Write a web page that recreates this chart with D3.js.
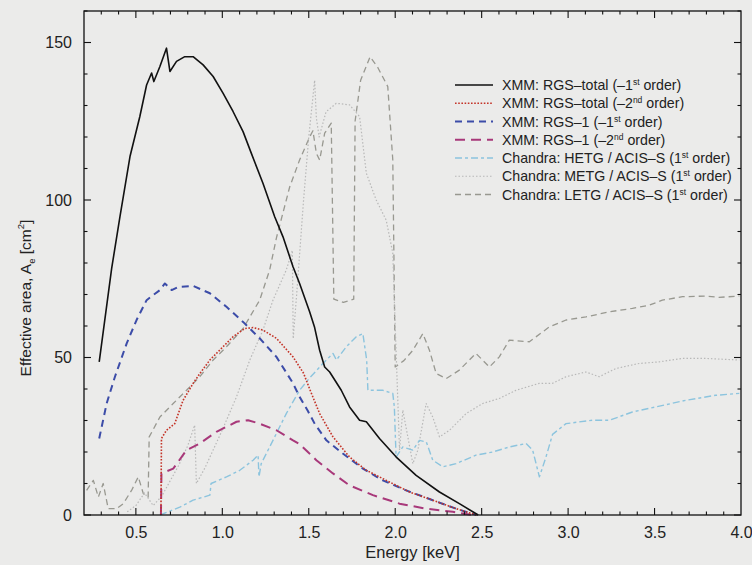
<!DOCTYPE html>
<html><head><meta charset="utf-8">
<script src="https://cdn.jsdelivr.net/npm/d3@7"></script>
<style>
html,body{margin:0;padding:0;background:#ebebea;}
svg{display:block;font-family:"Liberation Sans",Arial,sans-serif;}
</style></head>
<body><svg id="c" width="752" height="565"></svg>
<script>
// ---- data: [energy keV, effective area cm^2] ----
const rgsTotal1 = [[0.288,48.6],[0.36,78.3],[0.408,94.7],[0.466,113.8],[0.523,126.5],[0.562,136.5],[0.591,140.3],[0.604,137.6],[0.639,142.4],[0.677,148.2],[0.697,140.8],[0.735,144],[0.783,145.5],[0.831,145.5],[0.889,142.9],[0.947,139.2],[1.004,133.9],[1.062,128.1],[1.12,121.7],[1.168,114.8],[1.235,105.3],[1.303,94.7],[1.351,88.3],[1.409,78.8],[1.447,73.5],[1.505,64.5],[1.534,59.5],[1.563,52.3],[1.592,47],[1.621,45.4],[1.688,39.6],[1.736,34.3],[1.794,30.1],[1.833,29.6],[1.909,24.3],[2.006,18.4],[2.121,12.6],[2.256,7.3],[2.371,3.6],[2.468,0.4],[2.48,0]];
const rgsTotal2 = [[0.645,0],[0.648,24.3],[0.677,26.9],[0.725,29],[0.773,36.4],[0.831,41.8],[0.87,44.9],[0.928,49.2],[1.004,53.4],[1.062,56.6],[1.13,59.2],[1.178,59.5],[1.235,58.7],[1.313,56.1],[1.409,50.2],[1.47,45],[1.505,40],[1.563,32.2],[1.64,24.8],[1.736,18.4],[1.833,14.2],[1.948,11],[2.083,7.3],[2.217,4.7],[2.352,2],[2.47,0]];
const rgs1First = [[0.288,24.3],[0.331,35.4],[0.379,43.9],[0.447,54.5],[0.504,61.9],[0.562,68.2],[0.6,69.8],[0.639,71.4],[0.668,73.5],[0.707,71.4],[0.745,72.4],[0.832,72.7],[0.928,70.4],[1.024,66.1],[1.12,61.3],[1.216,56.1],[1.313,50.2],[1.409,41.8],[1.447,37.5],[1.495,33],[1.534,29],[1.602,23.7],[1.697,19.5],[1.813,14.7],[1.928,11],[2.063,7.8],[2.217,4.7],[2.352,2],[2.47,0]];
const rgs1Second = [[0.645,0],[0.648,13.2],[0.716,14.7],[0.793,20.6],[0.87,22.7],[0.966,26.4],[1.082,29.6],[1.149,30.1],[1.216,29],[1.313,26.9],[1.409,23.7],[1.447,22.5],[1.495,20],[1.544,17.4],[1.64,13.2],[1.736,9.4],[1.871,6.3],[2.025,3.6],[2.179,2],[2.333,1],[2.45,0]];
const hetg = [[0.64,0],[0.754,2.5],[0.831,4.7],[0.928,6.3],[0.935,10],[1.024,12.1],[1.101,14.2],[1.178,17.4],[1.207,19],[1.212,12.1],[1.225,16.3],[1.293,23.7],[1.37,32.2],[1.447,39.6],[1.505,43.5],[1.582,48.1],[1.64,51.3],[1.66,49.2],[1.717,53.4],[1.775,56.6],[1.813,57.6],[1.835,49.2],[1.842,39.6],[1.928,39.6],[1.986,38.6],[1.995,34.3],[2.005,18.4],[2.044,21.6],[2.102,20.6],[2.14,23.7],[2.18,23.2],[2.217,17.4],[2.275,15.3],[2.352,16.3],[2.467,19],[2.564,20],[2.66,21.6],[2.757,22.7],[2.795,20.6],[2.834,12.1],[2.872,18.4],[2.91,25.6],[2.988,29],[3.142,30.1],[3.24,30.1],[3.372,32.7],[3.507,34.3],[3.68,36.4],[3.853,38],[3.99,38.6]];
const metg = [[0.45,1],[0.5,3],[0.55,7],[0.6,3],[0.65,6],[0.7,11],[0.75,16],[0.8,22],[0.84,28.5],[0.85,10],[0.9,15],[1.0,27],[1.082,37.5],[1.159,49.2],[1.235,58.7],[1.293,68.2],[1.37,77.8],[1.405,84],[1.41,56],[1.43,70],[1.47,100],[1.5,120],[1.534,138],[1.544,126],[1.56,120],[1.6,128],[1.659,130.7],[1.736,130.2],[1.794,126.5],[1.833,108.5],[1.89,100],[1.948,93.6],[1.986,83.1],[2.0,60],[2.025,20.6],[2.044,33.3],[2.102,16.3],[2.131,20.6],[2.179,35.4],[2.217,31.1],[2.256,24.8],[2.314,26.9],[2.41,32.2],[2.506,35.4],[2.602,37],[2.699,39.6],[2.834,41.8],[2.91,41.8],[2.988,43.9],[3.103,45.4],[3.18,43.9],[3.276,46.5],[3.411,48.1],[3.526,48.6],[3.661,49.7],[3.796,49.7],[3.99,49.2]];
const letg = [[0.215,7.8],[0.254,11],[0.283,5.7],[0.311,10],[0.34,2],[0.389,2],[0.427,3.6],[0.475,7.8],[0.514,12.1],[0.543,6.8],[0.571,5.7],[0.577,24.8],[0.639,31.1],[0.716,35.4],[0.793,39.6],[0.87,43.9],[0.947,49.2],[1.024,53.4],[1.12,59.2],[1.216,68.2],[1.274,77.8],[1.313,88],[1.39,104.2],[1.447,112.7],[1.505,120],[1.524,122],[1.544,114.8],[1.563,112.7],[1.592,121.2],[1.63,124.4],[1.645,68.5],[1.7,67.5],[1.76,68.5],[1.768,125],[1.8,138],[1.855,145.5],[1.9,142],[1.957,136],[1.986,112.7],[2.0,47],[2.05,49],[2.102,52.3],[2.16,57.6],[2.198,52.3],[2.237,44.9],[2.295,43.3],[2.371,46],[2.467,51.3],[2.545,47],[2.602,50.2],[2.66,55.5],[2.776,55],[2.891,59.7],[2.988,61.9],[3.103,62.9],[3.238,64.5],[3.372,65.6],[3.469,66.6],[3.545,68.2],[3.661,69.3],[3.796,69.5],[3.873,69.1],[3.99,69.5]];

const xTicksMajor = [0.5,1.0,1.5,2.0,2.5,3.0,3.5,4.0];
const yTicksMajor = [0,50,100,150];
const legendLabels = [
  ["XMM: RGS\u2013total (\u20131","st"," order)"],
  ["XMM: RGS\u2013total (\u20132","nd"," order)"],
  ["XMM: RGS\u20131 (\u20131","st"," order)"],
  ["XMM: RGS\u20131 (\u20132","nd"," order)"],
  ["Chandra: HETG / ACIS\u2013S (1","st"," order)"],
  ["Chandra: METG / ACIS\u2013S (1","st"," order)"],
  ["Chandra: LETG / ACIS\u2013S (1","st"," order)"]
];

// ---- series styles ----
const series = [
  {d: letg, color:"#989890", w:1.3, dash:"6,4"},
  {d: metg, color:"#b8b8b8", w:1.2, dash:"1.5,2"},
  {d: hetg, color:"#8cc4de", w:1.4, dash:"7,3,3,3"},
  {d: rgs1Second, color:"#a8387a", w:2, dash:"10,6"},
  {d: rgs1First, color:"#3c4ca8", w:2, dash:"7,5"},
  {d: rgsTotal2, color:"#c43428", w:1.6, dash:"1.6,1.6"},
  {d: rgsTotal1, color:"#111111", w:1.6, dash:null}
];
const legendOrder = [6,5,4,3,2,1,0];

const svg = d3.select("#c");
const L=84, R=741, T=11, B=515;
const x = d3.scaleLinear().domain([0.2,4.0]).range([L,R]);
const y = d3.scaleLinear().domain([0,160]).range([B,T]);

const line = d3.line().x(d=>x(d[0])).y(d=>y(d[1]));
const g = svg.append("g");
series.forEach(s=>{
  g.append("path").attr("d",line(s.d)).attr("fill","none")
   .attr("stroke",s.color).attr("stroke-width",s.w)
   .attr("stroke-dasharray",s.dash).attr("stroke-linejoin","round");
});

// axes (ticks inward)
const xMinor = d3.range(3,40).map(v=>v/10);
const yMinor = d3.range(0,161,10);
function axisTicks(){
  const a = svg.append("g").attr("stroke","#111").attr("stroke-width",1.1);
  xMinor.forEach(v=>{
    const major = xTicksMajor.some(m=>Math.abs(m-v)<1e-6);
    const len = major?7:3.5;
    a.append("line").attr("x1",x(v)).attr("x2",x(v)).attr("y1",B).attr("y2",B-len);
    a.append("line").attr("x1",x(v)).attr("x2",x(v)).attr("y1",T).attr("y2",T+len);
  });
  yMinor.forEach(v=>{
    const major = yTicksMajor.includes(v);
    const len = major?7:3.5;
    a.append("line").attr("y1",y(v)).attr("y2",y(v)).attr("x1",L).attr("x2",L+len);
    a.append("line").attr("y1",y(v)).attr("y2",y(v)).attr("x1",R).attr("x2",R-len);
  });
  svg.append("rect").attr("x",L).attr("y",T).attr("width",R-L).attr("height",B-T)
    .attr("fill","none").attr("stroke","#111").attr("stroke-width",1.3);
}
axisTicks();

// tick labels via d3 axes (labels only)
const xAxis = d3.axisBottom(x).tickValues(xTicksMajor).tickFormat(d3.format(".1f")).tickSize(0).tickPadding(12);
const xa = svg.append("g").attr("transform",`translate(0,${B})`).call(xAxis);
xa.select(".domain").remove();
xa.selectAll("text").attr("font-size",16).attr("fill","#222").attr("font-family","Liberation Sans, Arial, sans-serif");

const yAxis = d3.axisLeft(y).tickValues(yTicksMajor).tickFormat(d3.format("d")).tickSize(0).tickPadding(12);
const ya = svg.append("g").attr("transform",`translate(${L},0)`).call(yAxis);
ya.select(".domain").remove();
ya.selectAll("text").attr("font-size",16).attr("fill","#222").attr("font-family","Liberation Sans, Arial, sans-serif");

// axis titles
svg.append("text").attr("x",(L+R)/2).attr("y",558).attr("text-anchor","middle")
  .attr("font-size",16.5).attr("fill","#222").text("Energy [keV]");

const yt = svg.append("text").attr("transform",`translate(31,298) rotate(-90)`)
  .attr("text-anchor","middle").attr("font-size",15.5).attr("fill","#222");
yt.append("tspan").text("Effective area, A");
yt.append("tspan").attr("font-size",9.5).attr("dy",4).text("e");
yt.append("tspan").attr("dy",-4).text(" [cm");
yt.append("tspan").attr("font-size",9.5).attr("dy",-7).text("2");
yt.append("tspan").attr("dy",7).text("]");

// legend
const lg = svg.append("g");
legendOrder.forEach((si,i)=>{
  const s = series[si];
  const yy = 85 + i*18.25;
  lg.append("line").attr("x1",455).attr("x2",493).attr("y1",yy).attr("y2",yy)
    .attr("stroke",s.color).attr("stroke-width",s.w).attr("stroke-dasharray",s.dash);
  const t = lg.append("text").attr("x",502).attr("y",yy+5).attr("font-size",14.2).attr("fill","#222");
  const lab = legendLabels[i];
  t.append("tspan").text(lab[0]);
  t.append("tspan").attr("font-size",8.5).attr("dy",-5).text(lab[1]);
  t.append("tspan").attr("dy",5).text(lab[2]);
});
</script></body></html>
